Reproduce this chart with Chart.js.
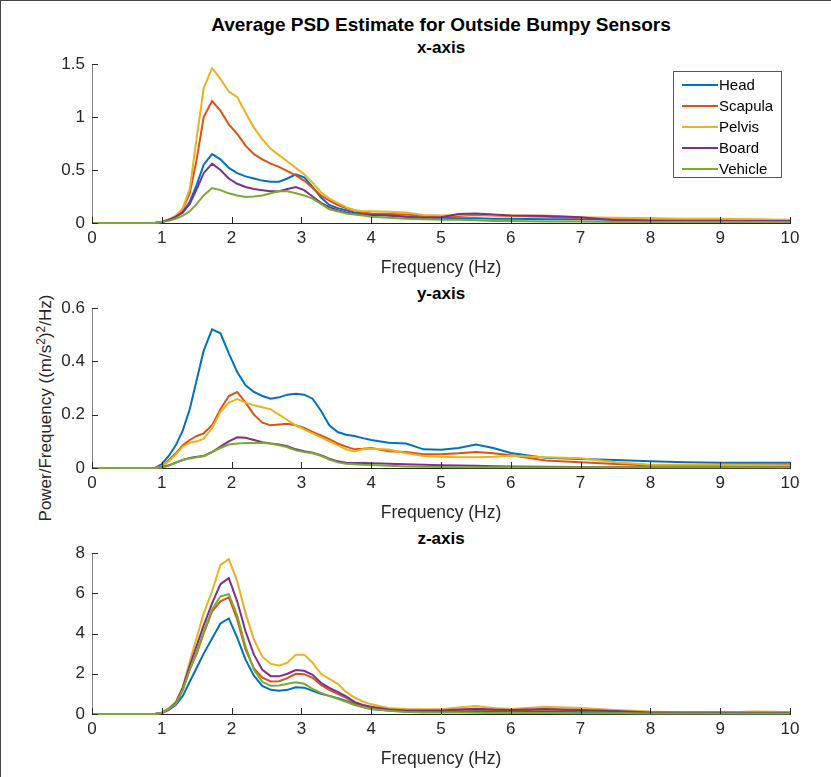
<!DOCTYPE html>
<html>
<head>
<meta charset="utf-8">
<script src="https://cdn.jsdelivr.net/npm/chart.js@4.4.1/dist/chart.umd.min.js"></script>
<style>
  html, body { margin: 0; padding: 0; background: #fff; }
  body { width: 831px; height: 777px; position: relative; overflow: hidden; font-family: "Liberation Sans", Arial, sans-serif; }
  .frame { position: absolute; left: 0; top: 0; width: 831px; height: 777px; border-top: 1px solid #444; border-left: 1px solid #444; box-sizing: border-box; pointer-events: none; }
  .ttl { position: absolute; left: 92px; width: 698px; text-align: center; font-weight: bold; color: #000; white-space: nowrap; line-height: 20px; }
  .box { position: absolute; left: 0; width: 831px; }
  .ylab { position: absolute; left: 46px; top: 408px; transform: translate(-50%, -50%) rotate(-90deg); white-space: nowrap; font-size: 17px; color: #262626; }
  .ylab sup { font-size: 12px; vertical-align: 6px; line-height: 0; }
</style>
</head>
<body>
<div class="ttl" style="top:15px;font-size:19px;">Average PSD Estimate for Outside Bumpy Sensors</div>
<div class="ttl" style="top:38px;font-size:17px;">x-axis</div>
<div class="ttl" style="top:284px;font-size:17px;">y-axis</div>
<div class="ttl" style="top:529px;font-size:17px;">z-axis</div>
<div class="ylab">Power/Frequency ((m/s<sup>2</sup>)<sup>2</sup>/Hz)</div>
<div class="box" style="top:0px;height:280px;"><canvas id="c1"></canvas></div>
<div class="box" style="top:280px;height:245px;"><canvas id="c2"></canvas></div>
<div class="box" style="top:525px;height:246px;"><canvas id="c3"></canvas></div>
<div class="frame"></div>
<script>
// ---- data ----
const SENSORS = ['Head', 'Scapula', 'Pelvis', 'Board', 'Vehicle'];
const COLORS = ['#0072BD', '#D95319', '#EDB120', '#7E2F8E', '#77AC30'];
const FREQ = [0,0.9, 1.0,1.1,1.2,1.3,1.4,1.5,1.6,
  1.72,1.84,1.96,2.08,2.2,2.32,2.44,2.56,2.68,2.8,2.92,3.04,3.16,3.28,3.4,3.52,3.64,3.76,3.88,
  4.0,4.25,4.5,4.75,5.0,5.25,5.5,5.75,6.0,
  6.5,7.0,7.5,8.0,8.5,9.0,9.5,10];
const X_TICKS = [0,1,2,3,4,5,6,7,8,9,10];

// x-axis panel
const X_HEAD    = [0,0, 0.01,0.03,0.06,0.1,0.2,0.36,0.55, 0.65,0.6,0.52,0.47,0.44,0.42,0.40,0.39,0.39,0.42,0.46,0.43,0.34,0.24,0.17,0.14,0.12,0.10,0.09, 0.085,0.07,0.06,0.05,0.05,0.045,0.045,0.04,0.04, 0.035,0.035,0.03,0.025,0.025,0.02,0.02,0.02];
const X_SCAPULA = [0,0, 0.01,0.03,0.06,0.13,0.28,0.6,1.0, 1.15,1.06,0.93,0.84,0.73,0.65,0.6,0.56,0.53,0.49,0.45,0.40,0.33,0.26,0.21,0.17,0.14,0.12,0.10, 0.09,0.085,0.08,0.065,0.06,0.065,0.075,0.07,0.065, 0.06,0.05,0.045,0.04,0.035,0.03,0.03,0.025];
const X_PELVIS  = [0,0, 0.01,0.03,0.07,0.14,0.32,0.8,1.27, 1.46,1.36,1.24,1.19,1.04,0.9,0.79,0.7,0.64,0.58,0.52,0.46,0.38,0.29,0.23,0.19,0.15,0.12,0.11, 0.11,0.105,0.10,0.075,0.07,0.075,0.085,0.075,0.07, 0.07,0.055,0.05,0.045,0.04,0.04,0.035,0.03];
const X_BOARD   = [0,0, 0.01,0.03,0.06,0.1,0.18,0.32,0.47, 0.56,0.5,0.42,0.37,0.34,0.32,0.31,0.30,0.30,0.32,0.34,0.31,0.25,0.19,0.15,0.12,0.10,0.085,0.08, 0.075,0.07,0.06,0.05,0.055,0.085,0.09,0.08,0.07, 0.065,0.055,0.025,0.02,0.02,0.02,0.02,0.02];
const X_VEHICLE = [0,0, 0.01,0.02,0.04,0.07,0.11,0.18,0.26, 0.33,0.31,0.28,0.26,0.245,0.25,0.26,0.28,0.3,0.30,0.28,0.26,0.23,0.18,0.13,0.11,0.09,0.08,0.07, 0.06,0.05,0.04,0.035,0.03,0.03,0.025,0.02,0.02, 0.015,0.015,0.01,0.01,0.01,0.01,0.01,0.01];
const X_YTICKS = [0,0.5,1,1.5];

// y-axis panel
const Y_HEAD    = [0,0, 0.015,0.045,0.085,0.14,0.22,0.33,0.44, 0.52,0.505,0.43,0.36,0.31,0.285,0.27,0.26,0.265,0.275,0.278,0.275,0.26,0.215,0.16,0.135,0.125,0.12,0.112, 0.105,0.095,0.092,0.07,0.068,0.075,0.088,0.075,0.056, 0.038,0.034,0.03,0.025,0.022,0.02,0.02,0.02];
const Y_SCAPULA = [0,0, 0.005,0.03,0.055,0.085,0.105,0.12,0.13, 0.16,0.22,0.27,0.285,0.245,0.2,0.17,0.16,0.163,0.166,0.16,0.15,0.135,0.122,0.108,0.092,0.08,0.07,0.072, 0.075,0.063,0.06,0.052,0.052,0.055,0.06,0.055,0.048, 0.028,0.022,0.015,0.009,0.009,0.009,0.01,0.01];
const Y_PELVIS  = [0,0, 0.005,0.025,0.05,0.08,0.095,0.1,0.11, 0.15,0.21,0.245,0.258,0.245,0.235,0.228,0.22,0.2,0.18,0.16,0.145,0.13,0.115,0.1,0.085,0.07,0.062,0.07, 0.072,0.069,0.055,0.045,0.042,0.04,0.04,0.042,0.046, 0.04,0.037,0.022,0.012,0.012,0.012,0.01,0.008];
const Y_BOARD   = [0,0, 0.003,0.01,0.02,0.03,0.038,0.042,0.045, 0.06,0.08,0.1,0.115,0.113,0.105,0.097,0.092,0.088,0.082,0.07,0.063,0.057,0.048,0.035,0.025,0.02,0.019,0.019, 0.018,0.016,0.014,0.012,0.01,0.009,0.008,0.007,0.006, 0.005,0.004,0.003,0.003,0.003,0.003,0.003,0.003];
const Y_VEHICLE = [0,0, 0.002,0.008,0.02,0.03,0.036,0.04,0.044, 0.06,0.075,0.088,0.092,0.094,0.094,0.094,0.092,0.085,0.078,0.066,0.06,0.055,0.046,0.032,0.021,0.016,0.014,0.012, 0.011,0.008,0.006,0.005,0.004,0.003,0.003,0.003,0.003, 0.003,0.003,0.003,0.003,0.003,0.003,0.003,0.003];
const Y_YTICKS = [0,0.2,0.4,0.6];

// z-axis panel
const Z_HEAD    = [0,0, 0.05,0.2,0.45,0.9,1.6,2.3,3.0, 3.75,4.5,4.75,3.8,2.7,1.9,1.4,1.2,1.16,1.2,1.33,1.31,1.15,1.0,0.9,0.78,0.65,0.48,0.35, 0.25,0.18,0.13,0.12,0.12,0.13,0.15,0.12,0.1, 0.12,0.1,0.07,0.05,0.05,0.04,0.04,0.04];
const Z_SCAPULA = [0,0, 0.05,0.25,0.5,1.2,2.2,3.0,4.0, 5.1,5.6,5.8,4.7,3.2,2.27,1.8,1.62,1.63,1.78,2.0,1.98,1.8,1.45,1.2,1.0,0.8,0.56,0.42, 0.32,0.22,0.17,0.15,0.15,0.2,0.24,0.2,0.18, 0.22,0.18,0.12,0.07,0.06,0.06,0.06,0.05];
const Z_PELVIS  = [0,0, 0.07,0.3,0.6,1.35,2.6,3.8,5.0, 6.1,7.4,7.7,6.6,5.0,3.7,2.85,2.5,2.4,2.55,2.95,2.95,2.55,2.0,1.75,1.5,1.1,0.82,0.62, 0.48,0.3,0.25,0.23,0.24,0.32,0.4,0.3,0.25, 0.36,0.3,0.2,0.12,0.08,0.08,0.12,0.1];
const Z_BOARD   = [0,0, 0.05,0.25,0.55,1.3,2.4,3.4,4.4, 5.5,6.45,6.75,5.6,4.1,2.95,2.2,1.88,1.87,2.0,2.18,2.15,1.95,1.55,1.3,1.1,0.88,0.6,0.45, 0.36,0.22,0.18,0.17,0.17,0.22,0.26,0.22,0.2, 0.25,0.2,0.15,0.08,0.07,0.07,0.06,0.06];
const Z_VEHICLE = [0,0, 0.05,0.25,0.5,1.2,2.2,3.1,4.1, 5.2,5.85,5.95,4.9,3.35,2.2,1.6,1.4,1.42,1.5,1.58,1.5,1.25,1.05,0.9,0.75,0.6,0.45,0.35, 0.25,0.16,0.1,0.08,0.07,0.07,0.06,0.05,0.05, 0.05,0.04,0.04,0.03,0.03,0.03,0.03,0.03];
const Z_YTICKS = [0,2,4,6,8];

// ---- rendering ----
const FONT = '"Liberation Sans", Arial, sans-serif';
Chart.defaults.font.family = FONT;
Chart.defaults.color = '#262626';

const inwardTicks = {
  id: 'inwardTicks',
  afterDatasetsDraw(chart) {
    const ctx = chart.ctx, a = chart.chartArea, xs = chart.scales.x, ys = chart.scales.y;
    ctx.save();
    ctx.strokeStyle = '#262626';
    ctx.lineWidth = 1;
    ctx.beginPath();
    xs.ticks.forEach(t => {
      const px = Math.round(xs.getPixelForValue(t.value)) + 0.5;
      ctx.moveTo(px, a.bottom); ctx.lineTo(px, a.bottom - 6);
    });
    ys.ticks.forEach(t => {
      const py = Math.round(ys.getPixelForValue(t.value)) + 0.5;
      ctx.moveTo(a.left, py); ctx.lineTo(a.left + 6, py);
    });
    ctx.stroke();
    ctx.restore();
  }
};

const boxLegend = {
  id: 'boxLegend',
  afterDraw(chart, args, opts) {
    if (!opts || !opts.show) return;
    const ctx = chart.ctx, a = chart.chartArea;
    const w = 108, h = 106;
    const x0 = a.right - 9 - w, y0 = a.top + 7;
    ctx.save();
    ctx.fillStyle = '#fff';
    ctx.fillRect(x0, y0, w, h);
    ctx.strokeStyle = '#555';
    ctx.lineWidth = 1;
    ctx.strokeRect(x0 + 0.5, y0 + 0.5, w, h);
    ctx.font = '15px ' + FONT;
    ctx.textBaseline = 'middle';
    ctx.textAlign = 'left';
    chart.data.datasets.forEach((ds, i) => {
      const y = y0 + 14 + i * 21;
      ctx.strokeStyle = ds.borderColor;
      ctx.lineWidth = 2;
      ctx.beginPath();
      ctx.moveTo(x0 + 9, y); ctx.lineTo(x0 + 45, y);
      ctx.stroke();
      ctx.fillStyle = '#000';
      ctx.fillText(ds.label, x0 + 46, y + 1);
    });
    ctx.restore();
  }
};

function makeChart(id, series, yticks, padTop, showLegend) {
  const ymax = yticks[yticks.length - 1];
  const datasets = series.map((vals, i) => ({
    label: SENSORS[i],
    data: FREQ.map((f, k) => ({ x: f, y: vals[k] })),
    borderColor: COLORS[i],
    backgroundColor: COLORS[i],
    borderWidth: 2,
    pointRadius: 0,
    tension: 0,
    fill: false,
    clip: false,
    order: series.length - i
  }));
  return new Chart(document.getElementById(id), {
    type: 'line',
    data: { datasets },
    plugins: [inwardTicks, boxLegend],
    options: {
      responsive: true,
      maintainAspectRatio: false,
      animation: false,
      events: [],
      layout: { padding: { top: padTop, right: 41, left: 0, bottom: 0 } },
      plugins: {
        legend: { display: false },
        title: { display: false },
        tooltip: { enabled: false },
        boxLegend: { show: showLegend }
      },
      scales: {
        x: {
          type: 'linear', min: X_TICKS[0], max: X_TICKS[X_TICKS.length - 1],
          afterBuildTicks: s => { s.ticks = X_TICKS.map(v => ({ value: v })); },
          ticks: { color: '#262626', font: { size: 17 }, padding: 5, maxRotation: 0, autoSkip: false, callback: v => String(v) },
          grid: { display: false, drawTicks: false },
          border: { display: true, color: '#262626', width: 1 },
          title: { display: true, text: 'Frequency (Hz)', color: '#262626', font: { size: 17.5 }, padding: { top: 0, bottom: 1 } },
          afterFit: s => { s.height = 57; }
        },
        y: {
          type: 'linear', min: 0, max: ymax,
          afterBuildTicks: s => { s.ticks = yticks.map(v => ({ value: v })); },
          ticks: { color: '#262626', font: { size: 17 }, padding: 7, autoSkip: false, callback: v => String(v) },
          grid: { display: false, drawTicks: false },
          border: { display: true, color: '#808080', width: 1 },
          afterFit: s => { s.width = 92; }
        }
      }
    }
  });
}

makeChart('c1', [X_HEAD, X_SCAPULA, X_PELVIS, X_BOARD, X_VEHICLE], X_YTICKS, 64, true);
makeChart('c2', [Y_HEAD, Y_SCAPULA, Y_PELVIS, Y_BOARD, Y_VEHICLE], Y_YTICKS, 28, false);
makeChart('c3', [Z_HEAD, Z_SCAPULA, Z_PELVIS, Z_BOARD, Z_VEHICLE], Z_YTICKS, 28, false);
</script>
</body>
</html>
